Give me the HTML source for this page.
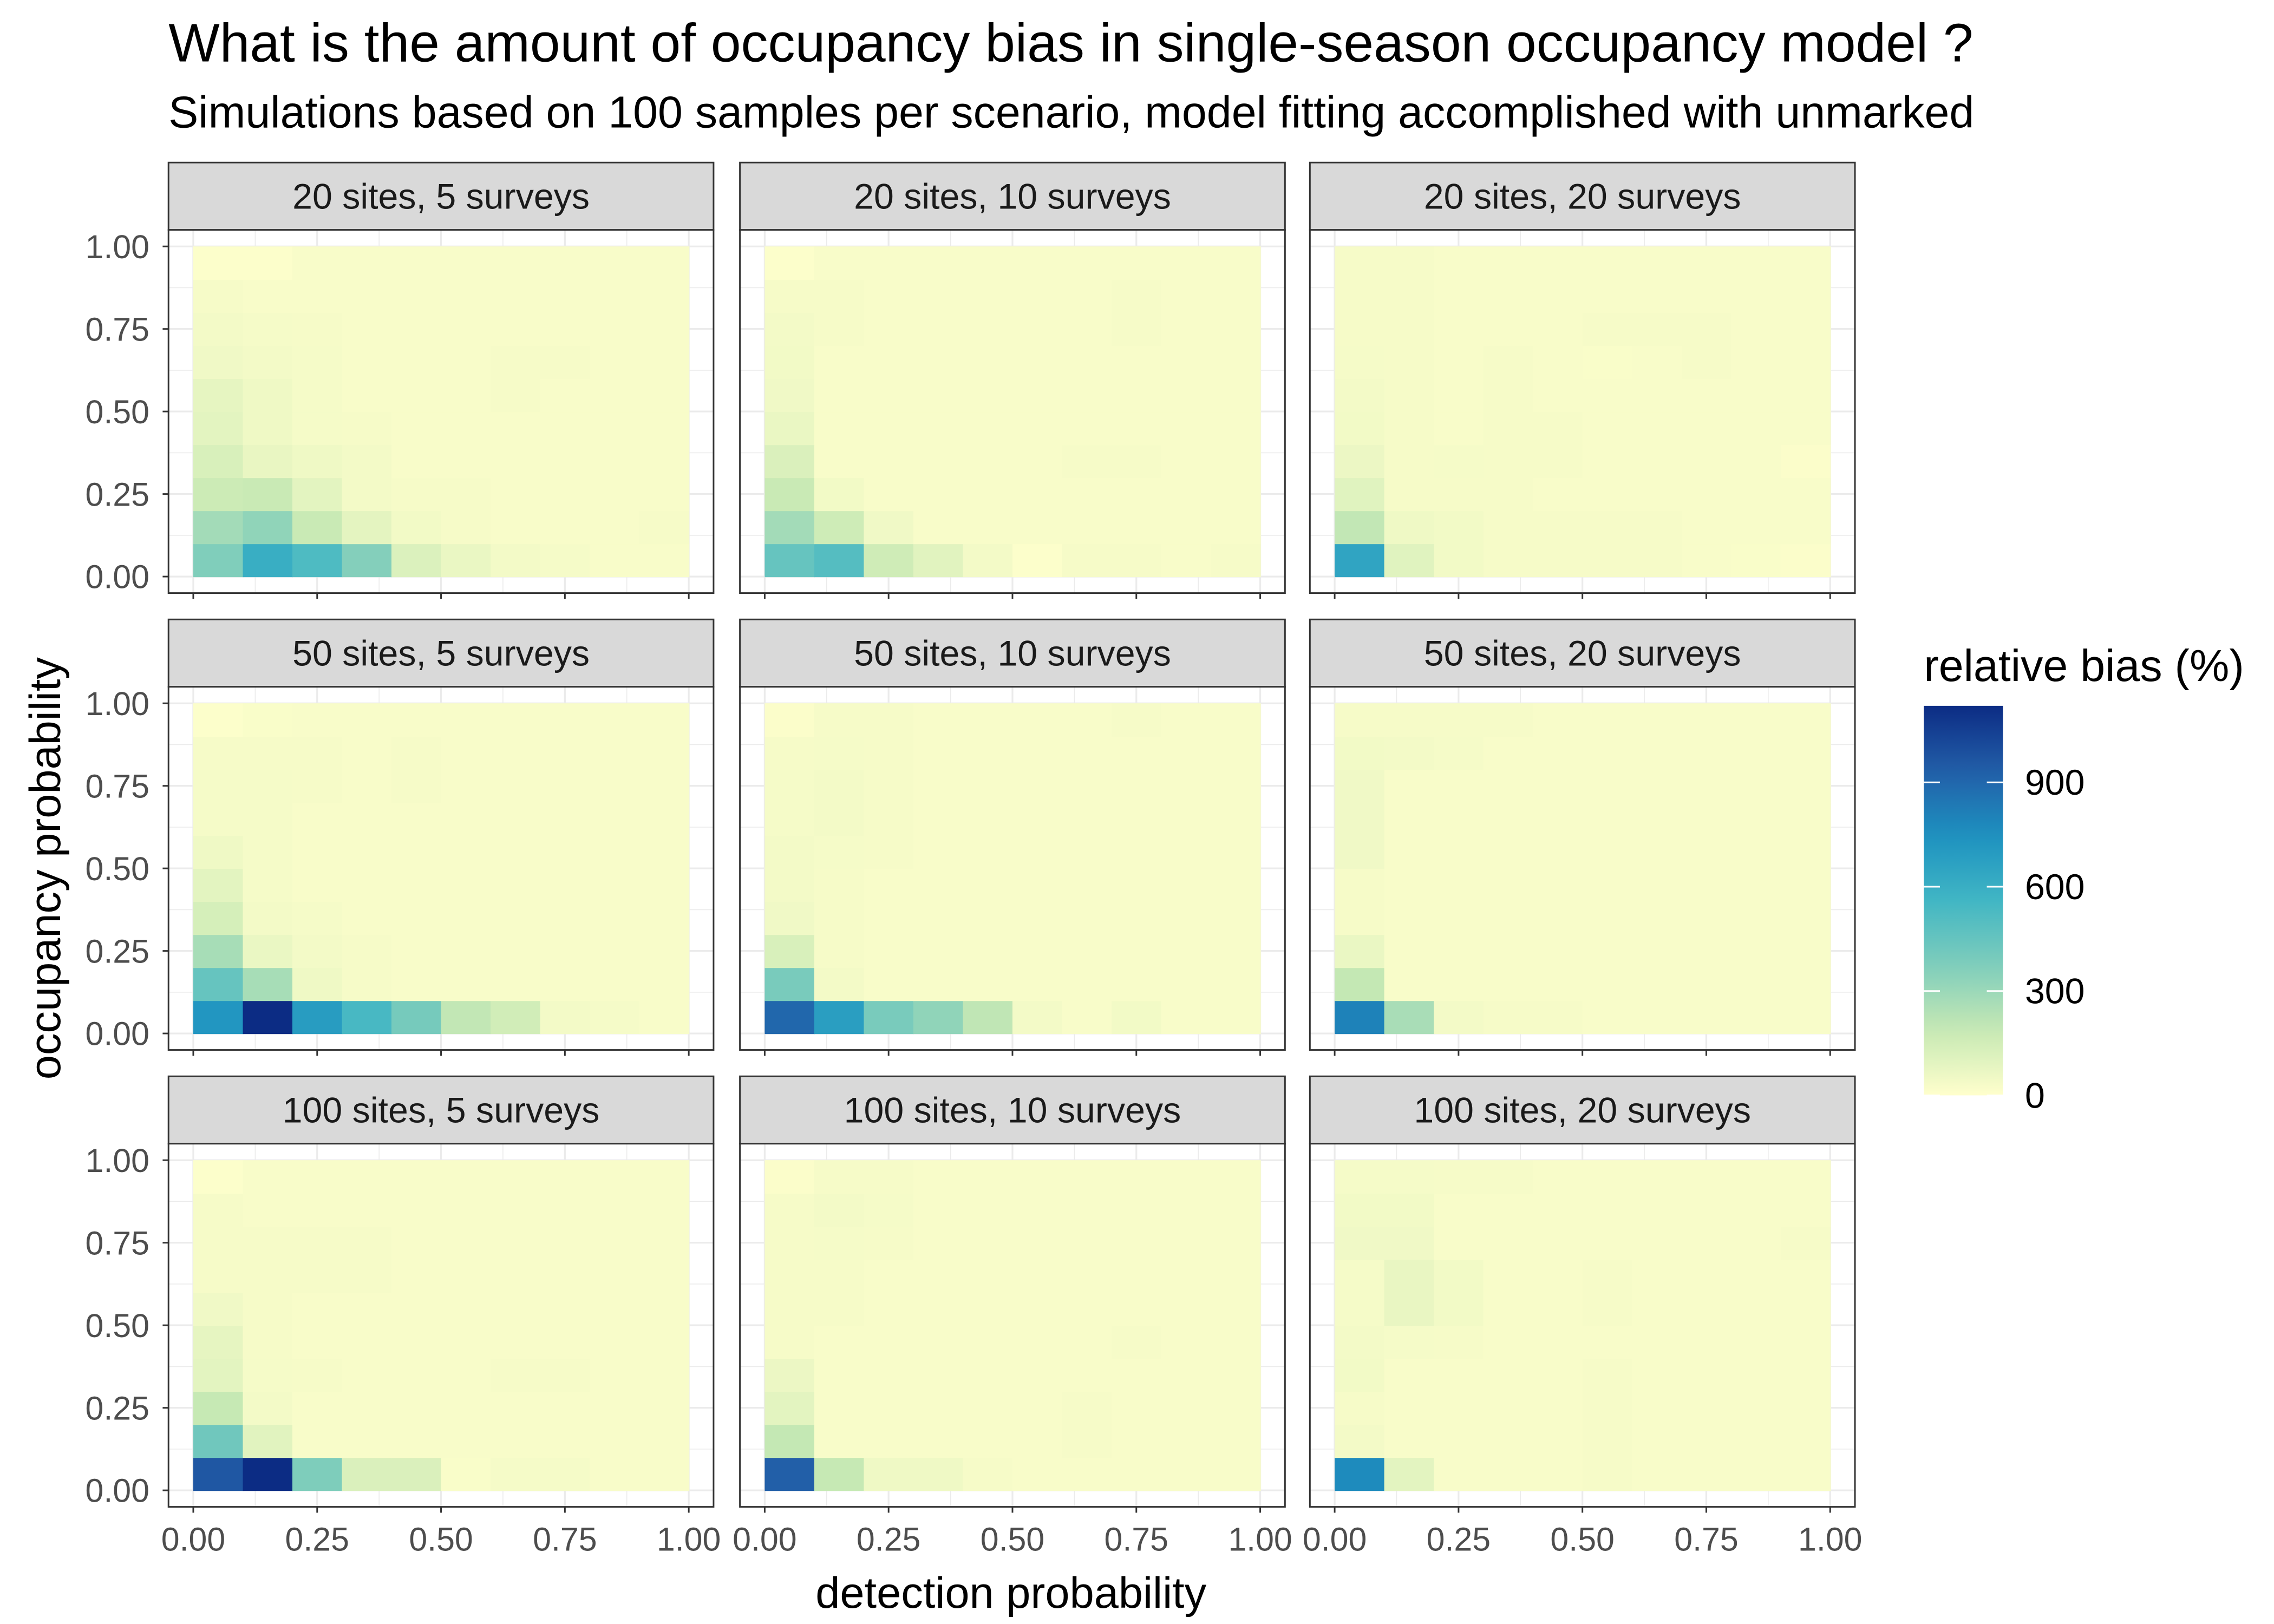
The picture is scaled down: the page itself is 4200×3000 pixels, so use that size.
<!DOCTYPE html>
<html><head><meta charset="utf-8"><style>
html,body{margin:0;padding:0;background:#fff;}
svg{display:block;}
text{font-family:"Liberation Sans",Arial,sans-serif;}
</style></head><body>
<svg id="chart" xmlns="http://www.w3.org/2000/svg" width="4200" height="3000" viewBox="0 0 1552 1109" preserveAspectRatio="none">
<rect x="0" y="0" width="1552" height="1109" fill="#fff"/>
<text x="115" y="42" font-size="37" fill="#000">What is the amount of occupancy bias in single-season occupancy model ?</text>
<text x="115" y="87" font-size="30.5" fill="#000">Simulations based on 100 samples per scenario, model fitting accomplished with unmarked</text>
<text transform="translate(41,593) rotate(-90)" text-anchor="middle" font-size="30" fill="#000">occupancy probability</text>
<text x="690" y="1098" text-anchor="middle" font-size="30" fill="#000">detection probability</text>
<g id="panels"></g>
<g id="legend"></g>
</svg>
<script>
// Panel labels
const panelLabels = ["20 sites, 5 surveys","20 sites, 10 surveys","20 sites, 20 surveys",
  "50 sites, 5 surveys","50 sites, 10 surveys","50 sites, 20 surveys",
  "100 sites, 5 surveys","100 sites, 10 surveys","100 sites, 20 surveys"];
const detectionCenters = [0.05,0.15,0.25,0.35,0.45,0.55,0.65,0.75,0.85,0.95];
const occupancyCenters = [0.05,0.15,0.25,0.35,0.45,0.55,0.65,0.75,0.85,0.95];
const axisTicks = [0,0.25,0.5,0.75,1];
const axisTickLabels = ["0.00","0.25","0.50","0.75","1.00"];
const legendTicks = [0,300,600,900];
const legendMin = 0, legendMax = 1120;
// bias values: each panel is rows from occupancy 0.05 (first) to 0.95 (last); each row over detection 0.05..0.95
const bias_20_5 = [
 [370,600,520,360,120,70,40,35,25,25],
 [280,330,180,90,45,30,25,25,25,30],
 [170,180,95,40,30,30,25,25,25,25],
 [130,75,55,40,25,25,25,25,25,25],
 [95,55,35,30,25,25,25,25,25,25],
 [85,55,35,25,25,25,30,25,25,25],
 [50,40,35,25,25,25,30,30,25,25],
 [40,35,30,25,25,25,25,25,25,25],
 [30,25,25,25,25,25,25,25,25,25],
 [10,10,25,25,25,25,25,25,25,25]];
const bias_20_10 = [
 [450,500,160,100,40,10,30,30,25,30],
 [280,165,50,25,25,25,25,25,25,25],
 [180,45,25,25,25,25,25,25,25,25],
 [125,25,25,25,25,25,30,30,25,25],
 [70,25,25,25,25,25,25,25,25,25],
 [50,25,25,25,25,25,25,25,25,25],
 [45,25,25,25,25,25,25,25,25,25],
 [40,30,25,25,25,25,25,30,25,25],
 [30,30,25,25,25,25,25,30,25,25],
 [10,25,25,25,25,25,25,25,25,25]];
const bias_20_20 = [
 [650,105,45,30,30,30,30,25,20,15],
 [200,55,45,30,30,30,30,25,25,25],
 [105,30,30,30,25,25,25,25,25,25],
 [65,30,35,30,30,25,25,25,25,15],
 [45,30,25,30,30,25,25,25,25,25],
 [40,30,25,30,25,25,25,25,25,25],
 [35,30,25,30,25,20,25,30,25,25],
 [30,30,25,25,25,30,30,30,25,25],
 [30,30,25,25,25,25,25,25,25,25],
 [30,30,25,25,25,25,25,25,25,25]];
const bias_50_5 = [
 [720,1120,690,540,400,200,155,40,35,25],
 [450,270,55,30,25,25,25,25,25,25],
 [270,70,40,30,25,25,25,25,25,25],
 [140,40,35,25,25,25,25,25,25,25],
 [95,35,25,25,25,25,25,25,25,25],
 [55,35,25,25,25,25,25,25,25,25],
 [35,35,25,25,25,25,25,25,25,25],
 [35,35,30,25,30,25,25,25,25,25],
 [30,30,30,25,30,25,25,25,25,25],
 [10,20,25,25,25,25,25,25,25,25]];
const bias_50_10 = [
 [900,680,390,330,205,40,25,45,25,25],
 [390,40,25,25,25,25,25,25,25,25],
 [130,30,25,25,25,25,25,25,25,25],
 [50,30,25,25,25,25,25,25,25,25],
 [40,30,25,25,25,25,25,25,25,25],
 [40,35,30,25,25,25,25,25,25,25],
 [35,40,30,25,25,25,25,25,25,25],
 [35,40,30,25,25,25,25,25,25,25],
 [30,35,30,25,25,25,25,25,25,25],
 [15,30,30,25,25,25,25,30,25,25]];
const bias_50_20 = [
 [800,265,40,30,30,25,25,25,25,25],
 [195,25,25,25,25,25,25,25,25,25],
 [70,25,25,25,25,25,25,25,25,25],
 [30,25,25,25,25,25,25,25,25,25],
 [30,25,25,25,25,25,25,25,25,25],
 [50,25,25,25,25,25,25,25,25,25],
 [50,25,25,25,25,25,25,25,25,25],
 [50,25,25,25,25,25,25,25,25,25],
 [45,40,35,25,25,25,25,25,25,25],
 [30,30,30,30,25,25,25,25,25,25]];
const bias_100_5 = [
 [960,1120,375,125,125,20,35,35,25,25],
 [420,100,25,25,25,25,25,25,25,25],
 [190,40,25,25,25,25,25,25,25,25],
 [95,35,30,25,25,25,30,30,25,25],
 [85,30,25,25,25,25,25,25,25,25],
 [50,30,25,25,25,25,25,25,25,25],
 [30,30,30,30,25,25,25,25,25,25],
 [30,30,30,30,25,25,25,25,25,25],
 [30,25,25,25,25,25,25,25,25,25],
 [10,25,25,25,25,25,25,25,25,25]];
const bias_100_10 = [
 [930,190,55,55,30,25,25,25,25,25],
 [195,25,25,25,25,25,30,25,25,25],
 [95,25,25,25,25,25,30,25,25,25],
 [65,25,25,25,25,25,25,25,25,25],
 [30,25,25,25,25,25,25,30,25,25],
 [30,30,25,25,25,25,25,25,25,25],
 [30,30,25,25,25,25,25,25,25,25],
 [30,35,30,25,25,25,25,25,25,25],
 [30,40,35,25,25,25,25,25,25,25],
 [15,30,30,25,25,25,25,25,25,25]];
const bias_100_20 = [
 [770,95,25,25,25,30,25,25,25,25],
 [40,25,25,25,25,30,25,25,25,25],
 [30,25,25,25,25,30,25,25,25,25],
 [45,25,25,25,25,30,25,25,25,25],
 [40,35,30,25,25,25,25,25,25,25],
 [35,75,45,25,25,30,25,25,25,25],
 [35,75,45,25,25,30,25,25,25,25],
 [50,50,25,25,25,25,25,25,25,30],
 [45,45,25,25,25,25,25,25,25,25],
 [35,35,30,30,25,25,25,25,25,25]];
const panelData = [bias_20_5,bias_20_10,bias_20_20,bias_50_5,bias_50_10,bias_50_20,bias_100_5,bias_100_10,bias_100_20];

const palette = ["#ffffcc","#c7e9b4","#7fcdbb","#41b6c4","#1d91c0","#225ea8","#0c2c84"];
function hex2rgb(h){return [1,3,5].map(i=>parseInt(h.substr(i,2),16));}
function colorFor(v){
  let t=(v-legendMin)/(legendMax-legendMin); t=Math.max(0,Math.min(1,t));
  const p=t*(palette.length-1); const i=Math.min(palette.length-2,Math.floor(p)); const f=p-i;
  const a=hex2rgb(palette[i]), b=hex2rgb(palette[i+1]);
  return "rgb("+a.map((c,k)=>Math.round(c+(b[k]-c)*f)).join(",")+")";
}
const NS="http://www.w3.org/2000/svg";
function mk(tag,attrs,parent){const e=document.createElementNS(NS,tag);for(const k in attrs)e.setAttribute(k,attrs[k]);parent.appendChild(e);return e;}
const colX=[115,505,894], rowTop=[111,423,735], PW=372, PH=248, SH=46;
const panelsG=document.getElementById('panels');
panelLabels.forEach((lab,pi)=>{
  const c=pi%3, r=Math.floor(pi/3);
  const x0=colX[c], st=rowTop[r], pt=st+SH;
  const xs=v=>x0+(v+0.05)/1.1*PW;
  const ys=v=>pt+(1.05-v)/1.1*PH;
  const g=mk('g',{},panelsG);
  
  
  const strip=mk('rect',{x:x0,y:st,width:PW,height:SH,fill:'#D9D9D9',stroke:'#333',"stroke-width":1.1},g);
  
  
  const st2=mk('text',{x:x0+PW/2,y:st+31.5,"text-anchor":"middle","font-size":24.5,fill:'#1A1A1A'},g);
  st2.textContent=lab;
  
  
  mk('rect',{x:x0,y:pt,width:PW,height:PH,fill:'#fff'},g);
  [0.125,0.375,0.625,0.875].forEach(v=>{
    mk('line',{x1:xs(v),x2:xs(v),y1:pt,y2:pt+PH,stroke:'#EBEBEB',"stroke-width":0.6},g);
    mk('line',{x1:x0,x2:x0+PW,y1:ys(v),y2:ys(v),stroke:'#EBEBEB',"stroke-width":0.6},g);
  });
  axisTicks.forEach(v=>{
    mk('line',{x1:xs(v),x2:xs(v),y1:pt,y2:pt+PH,stroke:'#EBEBEB',"stroke-width":1.2},g);
    mk('line',{x1:x0,x2:x0+PW,y1:ys(v),y2:ys(v),stroke:'#EBEBEB',"stroke-width":1.2},g);
  });
  const data=panelData[pi];
  data.forEach((row,ri)=>{
    row.forEach((val,ci)=>{
      const cx=detectionCenters[ci], cy=occupancyCenters[ri];
      const t=mk('rect',{x:xs(cx-0.05),y:ys(cy+0.05),width:xs(cx+0.05)-xs(cx-0.05)+0.4,height:ys(cy-0.05)-ys(cy+0.05)+0.4,fill:colorFor(val)},g);
      
      
    });
  });
  mk('rect',{x:x0,y:pt,width:PW,height:PH,fill:'none',stroke:'#333',"stroke-width":1.1},g);
  if(c===0){
    axisTicks.forEach((v,k)=>{
      mk('line',{x1:x0-4,x2:x0,y1:ys(v),y2:ys(v),stroke:'#333',"stroke-width":1.1},g);
      const tl=mk('text',{x:x0-13,y:ys(v)+8,"text-anchor":"end","font-size":22.5,fill:'#4D4D4D'},g);
      tl.textContent=axisTickLabels[k];
      
      
    });
  }
  axisTicks.forEach((v,k)=>{
    mk('line',{x1:xs(v),x2:xs(v),y1:pt+PH,y2:pt+PH+4,stroke:'#333',"stroke-width":1.1},g);
    if(r===2){
      const tl=mk('text',{x:xs(v),y:pt+PH+30,"text-anchor":"middle","font-size":22.5,fill:'#4D4D4D'},g);
      tl.textContent=axisTickLabels[k];
      
      
    }
  });
});
const lg=document.getElementById('legend');
const lt=mk('text',{x:1313,y:465,"font-size":30.5,fill:'#000'},lg);
lt.textContent="relative bias (%)";


const bx=1313,bw=54,btop=482,bbot=748;
const ly=v=>bbot-(v-legendMin)/(legendMax-legendMin)*(bbot-btop);
const defs=mk('defs',{},lg);
const grad=mk('linearGradient',{id:'lgGrad',x1:0,y1:1,x2:0,y2:0},defs);
for(let k=0;k<=20;k++){mk('stop',{offset:k/20,"stop-color":colorFor(legendMin+(legendMax-legendMin)*k/20)},grad);}
const bar=mk('rect',{x:bx,y:btop,width:bw,height:bbot-btop,fill:'url(#lgGrad)'},lg);


legendTicks.forEach(v=>{
  mk('line',{x1:bx,x2:bx+11,y1:ly(v),y2:ly(v),stroke:'#fff',"stroke-width":1.1},lg);
  mk('line',{x1:bx+bw-11,x2:bx+bw,y1:ly(v),y2:ly(v),stroke:'#fff',"stroke-width":1.1},lg);
  const t=mk('text',{x:1382,y:ly(v)+8.5,"font-size":24.5,fill:'#000'},lg);
  t.textContent=String(v);
  
  
});
</script>
</body></html>
